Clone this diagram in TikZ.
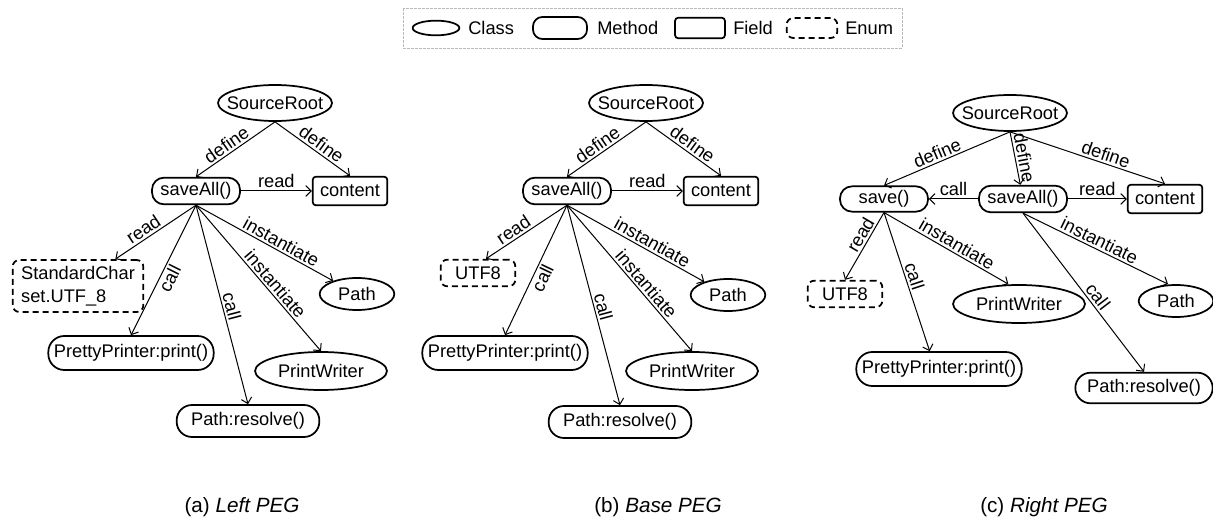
\documentclass[tikz,border=0pt]{standalone}
\usepackage{fontspec}
\setmainfont{Liberation Sans}
\usetikzlibrary{shapes.geometric,arrows.meta,calc}
\newcommand\figfont{\fontsize{13.7}{17}\selectfont}
\newcommand\capfont{\fontsize{15.5}{18}\selectfont}
\tikzset{
  every node/.style={font=\figfont},
  nd/.style={draw, line width=1.3pt},
  cls/.style={nd, ellipse, inner xsep=-12pt, inner ysep=-5pt},
  mth/.style={nd, rectangle, rounded corners=9pt, inner xsep=2pt, inner ysep=0pt},
  fld/.style={nd, rectangle, rounded corners=2.5pt, inner sep=2pt},
  enm/.style={nd, rectangle, rounded corners=5pt, dash pattern=on 4.5pt off 3pt, inner sep=2pt},
  conn/.style={line width=0.75pt, -{Straight Barb[length=4pt,width=8pt]}},
  lbl/.style={sloped, above, inner sep=1.5pt},
  captxt/.style={inner sep=0pt, font=\capfont},
}
\begin{document}
\begin{tikzpicture}[x=0.75pt, y=-0.75pt]
\useasboundingbox (0,0) rectangle (1213,520);
% legend
\draw[gray!55, line width=0.7pt, dash pattern=on 2pt off 1pt] (403,8) rectangle (902,48);
\node[cls, minimum width=35pt, minimum height=11pt] (lg-c) at (436,28) {};
\node[anchor=west, inner sep=0pt] (lg-ct) at (468,28) {Class};
\node[mth, rounded corners=7pt, minimum width=40.5pt, minimum height=16.5pt] (lg-m) at (560,28) {};
\node[anchor=west, inner sep=0pt] (lg-mt) at (597,28) {Method};
\node[fld, minimum width=37.5pt, minimum height=15.5pt] (lg-f) at (700,28) {};
\node[anchor=west, inner sep=0pt] (lg-ft) at (733,28) {Field};
\node[enm, minimum width=38pt, minimum height=15pt] (lg-e) at (812,28) {};
\node[anchor=west, inner sep=0pt] (lg-et) at (845,28) {Enum};

% ---------------- (a)
\node[cls, minimum width=85.5pt, minimum height=27pt] (a-sr) at (275,103) {SourceRoot};
\node[mth, minimum width=66pt, minimum height=20pt] (a-sa) at (196,191) {saveAll()};
\node[fld, minimum width=56pt, minimum height=21.5pt] (a-ct) at (350,191) {content};
\node[enm, minimum width=98pt, minimum height=39pt, align=left] (a-sc) at (78,286) {StandardChar\\set.UTF\_8};
\node[mth, rounded corners=12pt, minimum width=124pt, minimum height=25.5pt] (a-pp) at (131,353) {PrettyPrinter:print()};
\node[mth, rounded corners=11.5pt, minimum width=107pt, minimum height=24pt] (a-pr) at (248,421) {Path:resolve()};
\node[cls, minimum width=99pt, minimum height=28.5pt] (a-pw) at (321,371) {PrintWriter};
\node[cls, minimum width=56pt, minimum height=24pt] (a-pa) at (357,294) {Path};
\draw[conn] (a-sr.south) -- node[lbl, pos=0.55]{define} (a-sa.north);
\draw[conn] (a-sr.south) -- node[lbl, pos=0.55]{define} (a-ct.north);
\draw[conn] (a-sa) -- node[above, inner sep=2pt]{read} (a-ct);
\draw[conn] (a-sa.south) -- node[lbl, pos=0.59]{read} ([xshift=28pt]a-sc.north);
\draw[conn] (a-sa.south) -- node[lbl, below, pos=0.53]{call} (a-pp.north);
\draw[conn] (a-sa.south) -- node[lbl, pos=0.52]{call} (a-pr.north);
\draw[conn] (a-sa.south) -- node[lbl, pos=0.58]{instantiate} (a-pw.north);
\draw[conn] (a-sa.south) -- node[lbl, pos=0.59]{instantiate} (a-pa);

% ---------------- (b)
\node[cls, minimum width=85.5pt, minimum height=27pt] (b-sr) at (646,103) {SourceRoot};
\node[mth, minimum width=66pt, minimum height=20pt] (b-sa) at (567,191) {saveAll()};
\node[fld, minimum width=56pt, minimum height=21.5pt] (b-ct) at (721,191) {content};
\node[enm, minimum width=56pt, minimum height=20pt] (b-u) at (478,273) {UTF8};
\node[mth, rounded corners=12pt, minimum width=124pt, minimum height=25.5pt] (b-pp) at (505,353) {PrettyPrinter:print()};
\node[mth, rounded corners=11.5pt, minimum width=107pt, minimum height=24pt] (b-pr) at (620,422) {Path:resolve()};
\node[cls, minimum width=99pt, minimum height=28.5pt] (b-pw) at (692,371) {PrintWriter};
\node[cls, minimum width=56pt, minimum height=24pt] (b-pa) at (728,295) {Path};
\draw[conn] (b-sr.south) -- node[lbl, pos=0.55]{define} (b-sa.north);
\draw[conn] (b-sr.south) -- node[lbl, pos=0.55]{define} (b-ct.north);
\draw[conn] (b-sa) -- node[above, inner sep=2pt]{read} (b-ct);
\draw[conn] (b-sa.south) -- node[lbl, pos=0.6]{read} ([xshift=6pt]b-u.north);
\draw[conn] (b-sa.south) -- node[lbl, below, pos=0.53]{call} (b-pp.north);
\draw[conn] (b-sa.south) -- node[lbl, pos=0.52]{call} (b-pr.north);
\draw[conn] (b-sa.south) -- node[lbl, pos=0.58]{instantiate} (b-pw.north);
\draw[conn] (b-sa.south) -- node[lbl, pos=0.59]{instantiate} (b-pa);

% ---------------- (c)
\node[cls, minimum width=85.5pt, minimum height=27pt] (c-sr) at (1010,113) {SourceRoot};
\node[mth, minimum width=66pt, minimum height=19pt] (c-sv) at (884,199) {save()};
\node[mth, minimum width=66pt, minimum height=20pt] (c-sa) at (1023,199) {saveAll()};
\node[fld, minimum width=56pt, minimum height=21.5pt] (c-ct) at (1165,199) {content};
\node[enm, minimum width=56pt, minimum height=20pt] (c-u) at (845,294) {UTF8};
\node[cls, minimum width=99pt, minimum height=28.5pt] (c-pw) at (1019,304) {PrintWriter};
\node[mth, rounded corners=12pt, minimum width=124pt, minimum height=25.5pt] (c-pp) at (939,369) {PrettyPrinter:print()};
\node[cls, minimum width=56pt, minimum height=24pt] (c-pa) at (1176,301) {Path};
\node[mth, rounded corners=11.5pt, minimum width=103pt, minimum height=23pt] (c-pr) at (1144,388) {Path:resolve()};
\draw[conn] (c-sr.south) -- node[lbl, pos=0.55]{define} (c-sv.north);
\draw[conn] (c-sr.south) -- node[lbl, pos=0.53]{define} ([xshift=-2pt]c-sa.north);
\draw[conn] (c-sr.south) -- node[lbl, pos=0.6]{define} (c-ct.north);
\draw[conn] (c-sa) -- node[above, inner sep=2pt]{call} (c-sv);
\draw[conn] (c-sa) -- node[above, inner sep=2pt]{read} (c-ct);
\draw[conn] (c-sv.south) -- node[lbl, pos=0.4]{read} (c-u.north);
\draw[conn] (c-sv.south) -- node[lbl, pos=0.48]{call} ([xshift=-7pt]c-pp.north);
\draw[conn] (c-sv.south) -- node[lbl, pos=0.55]{instantiate} ([xshift=-8pt]c-pw.north);
\draw[conn] (c-sa.south) -- node[lbl, pos=0.56]{call} (c-pr.north);
\draw[conn] (c-sa.south) -- node[lbl, pos=0.5]{instantiate} ([xshift=-6pt]c-pa.north);

% captions
\node[captxt] (cap-a) at (242,507) {(a) \textit{Left PEG}};
\node[captxt] (cap-b) at (658,507) {(b) \textit{Base PEG}};
\node[captxt] (cap-c) at (1044,507) {(c) \textit{Right PEG}};
\end{tikzpicture}
\end{document}
